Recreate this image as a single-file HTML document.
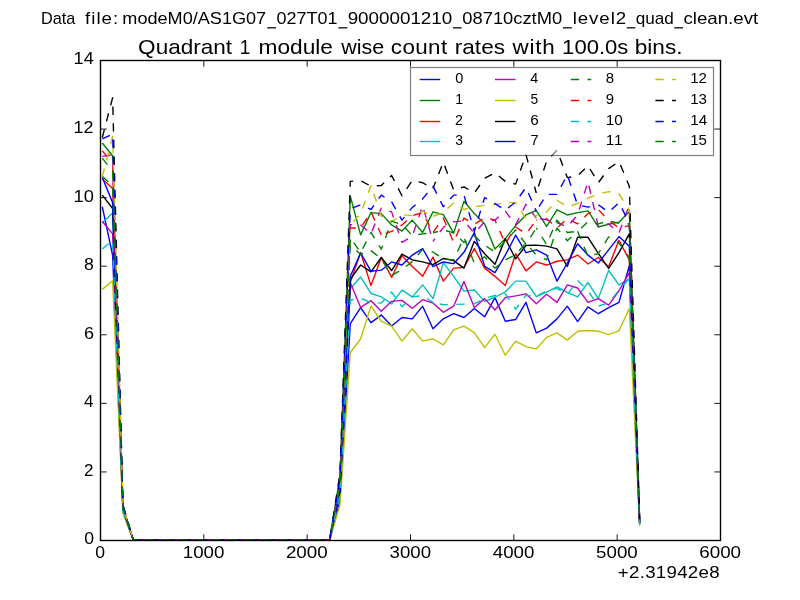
<!DOCTYPE html>
<html><head><meta charset="utf-8"><title>plot</title>
<style>
html,body{margin:0;padding:0;background:#fff;}
body{width:800px;height:600px;overflow:hidden;}
svg{display:block;}
text{font-family:"Liberation Sans",sans-serif;fill:#000;}
</style></head><body>
<svg width="800" height="600" viewBox="0 0 800 600">
<rect width="800" height="600" fill="#fff"/>

<defs><filter id="gs" x="0" y="0" width="100%" height="100%" filterUnits="userSpaceOnUse" color-interpolation-filters="sRGB"><feColorMatrix type="saturate" values="0"/></filter><clipPath id="c"><rect x="100.5" y="60.5" width="620" height="480"/></clipPath></defs>
<g clip-path="url(#c)" fill="none" stroke-width="1.39" stroke-linejoin="round" stroke-linecap="butt">
<path d="M102.30,206.74 L112.63,255.43 L122.97,512.13 L133.30,540.00 L143.63,540.00 L153.97,540.00 L164.30,540.00 L174.63,540.00 L184.97,540.00 L195.30,540.00 L205.63,540.00 L215.97,540.00 L226.30,540.00 L236.63,540.00 L246.97,540.00 L257.30,540.00 L267.63,540.00 L277.97,540.00 L288.30,540.00 L298.63,540.00 L308.97,540.00 L319.30,540.00 L329.63,540.00 L339.97,499.98 L350.30,323.66 L360.63,307.54 L370.97,322.63 L381.30,315.09 L391.63,326.06 L401.97,317.49 L412.30,318.86 L422.63,306.17 L432.97,328.80 L443.30,318.86 L453.63,313.71 L463.97,317.49 L474.30,308.57 L484.63,316.80 L494.97,297.60 L505.30,321.26 L515.63,319.54 L525.97,302.40 L536.30,332.91 L546.63,328.11 L556.97,318.86 L567.30,306.17 L577.63,321.60 L587.97,306.86 L598.30,313.71 L608.63,307.54 L618.96,302.40 L629.30,265.71 L639.63,523.54" stroke="#0000ff"/>
<path d="M102.30,142.97 L112.63,156.00 L122.97,506.98 L133.30,540.00 L143.63,540.00 L153.97,540.00 L164.30,540.00 L174.63,540.00 L184.97,540.00 L195.30,540.00 L205.63,540.00 L215.97,540.00 L226.30,540.00 L236.63,540.00 L246.97,540.00 L257.30,540.00 L267.63,540.00 L277.97,540.00 L288.30,540.00 L298.63,540.00 L308.97,540.00 L319.30,540.00 L329.63,540.00 L339.97,476.38 L350.30,196.11 L360.63,234.86 L370.97,212.57 L381.30,213.60 L391.63,224.91 L401.97,231.09 L412.30,220.11 L422.63,232.46 L432.97,211.89 L443.30,214.63 L453.63,233.14 L463.97,201.26 L474.30,213.60 L484.63,223.89 L494.97,248.91 L505.30,238.63 L515.63,225.60 L525.97,214.97 L536.30,210.51 L546.63,226.29 L556.97,209.83 L567.30,214.97 L577.63,212.57 L587.97,210.86 L598.30,226.97 L608.63,224.23 L618.96,222.17 L629.30,211.54 L639.63,520.29" stroke="#008000"/>
<path d="M102.30,178.97 L112.63,188.57 L122.97,509.45 L133.30,540.00 L143.63,540.00 L153.97,540.00 L164.30,540.00 L174.63,540.00 L184.97,540.00 L195.30,540.00 L205.63,540.00 L215.97,540.00 L226.30,540.00 L236.63,540.00 L246.97,540.00 L257.30,540.00 L267.63,540.00 L277.97,540.00 L288.30,540.00 L298.63,540.00 L308.97,540.00 L319.30,540.00 L329.63,540.00 L339.97,492.37 L350.30,282.51 L360.63,252.34 L370.97,285.60 L381.30,257.49 L391.63,277.37 L401.97,255.77 L412.30,266.40 L422.63,276.34 L432.97,257.14 L443.30,281.14 L453.63,268.11 L463.97,267.43 L474.30,248.57 L484.63,268.11 L494.97,276.34 L505.30,285.60 L515.63,253.71 L525.97,270.86 L536.30,261.94 L546.63,265.03 L556.97,261.26 L567.30,259.89 L577.63,255.09 L587.97,264.00 L598.30,257.49 L608.63,266.74 L618.96,240.34 L629.30,259.89 L639.63,523.19" stroke="#ff0000"/>
<path d="M102.30,222.86 L112.63,212.91 L122.97,510.75 L133.30,540.00 L143.63,540.00 L153.97,540.00 L164.30,540.00 L174.63,540.00 L184.97,540.00 L195.30,540.00 L205.63,540.00 L215.97,540.00 L226.30,540.00 L236.63,540.00 L246.97,540.00 L257.30,540.00 L267.63,540.00 L277.97,540.00 L288.30,540.00 L298.63,540.00 L308.97,540.00 L319.30,540.00 L329.63,540.00 L339.97,493.51 L350.30,288.69 L360.63,277.03 L370.97,293.49 L381.30,296.91 L391.63,303.77 L401.97,290.06 L412.30,296.91 L422.63,284.91 L432.97,298.63 L443.30,262.63 L453.63,276.34 L463.97,291.09 L474.30,290.06 L484.63,301.37 L494.97,297.26 L505.30,291.77 L515.63,281.14 L525.97,281.14 L536.30,296.57 L546.63,292.11 L556.97,286.97 L567.30,292.46 L577.63,296.91 L587.97,282.51 L598.30,298.63 L608.63,270.51 L618.96,284.91 L629.30,278.74 L639.63,524.32" stroke="#00bfbf"/>
<path d="M102.30,221.49 L112.63,233.83 L122.97,511.29 L133.30,540.00 L143.63,540.00 L153.97,540.00 L164.30,540.00 L174.63,540.00 L184.97,540.00 L195.30,540.00 L205.63,540.00 L215.97,540.00 L226.30,540.00 L236.63,540.00 L246.97,540.00 L257.30,540.00 L267.63,540.00 L277.97,540.00 L288.30,540.00 L298.63,540.00 L308.97,540.00 L319.30,540.00 L329.63,540.00 L339.97,492.37 L350.30,282.51 L360.63,307.54 L370.97,300.69 L381.30,311.31 L391.63,301.37 L401.97,300.34 L412.30,308.23 L422.63,299.66 L432.97,303.09 L443.30,312.34 L453.63,306.17 L463.97,281.49 L474.30,307.54 L484.63,298.63 L494.97,309.94 L505.30,297.60 L515.63,295.89 L525.97,293.83 L536.30,303.77 L546.63,294.17 L556.97,302.40 L567.30,284.91 L577.63,288.00 L587.97,302.40 L598.30,298.63 L608.63,305.14 L618.96,290.74 L629.30,272.57 L639.63,523.95" stroke="#bf00bf"/>
<path d="M102.30,289.37 L112.63,280.80 L122.97,513.29 L133.30,540.00 L143.63,540.00 L153.97,540.00 L164.30,540.00 L174.63,540.00 L184.97,540.00 L195.30,540.00 L205.63,540.00 L215.97,540.00 L226.30,540.00 L236.63,540.00 L246.97,540.00 L257.30,540.00 L267.63,540.00 L277.97,540.00 L288.30,540.00 L298.63,540.00 L308.97,540.00 L319.30,540.00 L329.63,540.00 L339.97,505.30 L350.30,352.46 L360.63,338.74 L370.97,306.17 L381.30,321.26 L391.63,326.06 L401.97,341.14 L412.30,328.80 L422.63,341.14 L432.97,338.74 L443.30,344.91 L453.63,329.83 L463.97,326.06 L474.30,332.57 L484.63,347.66 L494.97,334.29 L505.30,355.20 L515.63,341.14 L525.97,346.63 L536.30,349.03 L546.63,337.37 L556.97,332.91 L567.30,340.11 L577.63,331.20 L587.97,330.51 L598.30,331.20 L608.63,334.63 L618.96,330.86 L629.30,308.57 L639.63,526.11" stroke="#bfbf00"/>
<path d="M102.30,195.09 L112.63,208.46 L122.97,508.94 L133.30,540.00 L143.63,540.00 L153.97,540.00 L164.30,540.00 L174.63,540.00 L184.97,540.00 L195.30,540.00 L205.63,540.00 L215.97,540.00 L226.30,540.00 L236.63,540.00 L246.97,540.00 L257.30,540.00 L267.63,540.00 L277.97,540.00 L288.30,540.00 L298.63,540.00 L308.97,540.00 L319.30,540.00 L329.63,540.00 L339.97,491.79 L350.30,279.43 L360.63,265.03 L370.97,271.89 L381.30,257.49 L391.63,270.51 L401.97,254.06 L412.30,259.89 L422.63,261.94 L432.97,264.69 L443.30,258.51 L453.63,260.57 L463.97,268.11 L474.30,241.37 L484.63,253.71 L494.97,264.34 L505.30,238.63 L515.63,258.86 L525.97,245.49 L536.30,245.14 L546.63,246.17 L556.97,248.91 L567.30,266.40 L577.63,237.26 L587.97,237.26 L598.30,253.37 L608.63,268.46 L618.96,252.69 L629.30,233.83 L639.63,521.63" stroke="#000000"/>
<path d="M102.30,177.60 L112.63,202.63 L122.97,509.02 L133.30,540.00 L143.63,540.00 L153.97,540.00 L164.30,540.00 L174.63,540.00 L184.97,540.00 L195.30,540.00 L205.63,540.00 L215.97,540.00 L226.30,540.00 L236.63,540.00 L246.97,540.00 L257.30,540.00 L267.63,540.00 L277.97,540.00 L288.30,540.00 L298.63,540.00 L308.97,540.00 L319.30,540.00 L329.63,540.00 L339.97,491.22 L350.30,276.34 L360.63,253.03 L370.97,271.20 L381.30,270.17 L391.63,261.94 L401.97,265.03 L412.30,255.09 L422.63,248.57 L432.97,266.74 L443.30,261.94 L453.63,263.66 L463.97,252.34 L474.30,232.46 L484.63,266.40 L494.97,272.57 L505.30,255.09 L515.63,235.20 L525.97,252.69 L536.30,249.94 L546.63,255.09 L556.97,281.14 L567.30,262.97 L577.63,243.77 L587.97,255.09 L598.30,262.97 L608.63,249.94 L618.96,236.57 L629.30,246.17 L639.63,522.37" stroke="#0000ff"/>
<path d="M102.30,176.23 L112.63,185.83 L122.97,508.78 L133.30,540.00" stroke="#008000" stroke-dasharray="8.333,8.333"/>
<path d="M133.30,540.00 L143.63,540.00 L153.97,540.00 L164.30,540.00 L174.63,540.00 L184.97,540.00 L195.30,540.00 L205.63,540.00 L215.97,540.00 L226.30,540.00 L236.63,540.00 L246.97,540.00 L257.30,540.00 L267.63,540.00 L277.97,540.00 L288.30,540.00 L298.63,540.00 L308.97,540.00 L319.30,540.00 L329.63,540.00" stroke="#008000" stroke-dasharray="8.333,8.333" stroke-dashoffset="4.33"/>
<path d="M329.63,540.00 L339.97,485.45 L350.30,245.14 L360.63,254.40 L370.97,250.63 L381.30,258.86 L391.63,275.66 L401.97,269.49 L412.30,261.60 L422.63,249.26 L432.97,252.00" stroke="#008000" stroke-dasharray="8.333,8.333" stroke-dashoffset="12.42"/>
<path d="M432.97,252.00 L443.30,258.86 L453.63,259.89 L463.97,237.60 L474.30,262.97 L484.63,256.80 L494.97,268.11 L505.30,259.89 L515.63,254.74 L525.97,243.09 L536.30,255.09" stroke="#008000" stroke-dasharray="8.333,8.333" stroke-dashoffset="1.23"/>
<path d="M536.30,255.09 L546.63,259.89 L556.97,228.00 L567.30,240.69 L577.63,231.43 L587.97,256.11 L598.30,253.71 L608.63,236.91 L618.96,243.09 L629.30,257.49 L639.63,523.05" stroke="#008000" stroke-dasharray="8.333,8.333" stroke-dashoffset="8.33"/>
<path d="M102.30,150.86 L112.63,162.86 L122.97,507.19 L133.30,540.00" stroke="#ff0000" stroke-dasharray="8.333,8.333"/>
<path d="M133.30,540.00 L143.63,540.00 L153.97,540.00 L164.30,540.00 L174.63,540.00 L184.97,540.00 L195.30,540.00 L205.63,540.00 L215.97,540.00 L226.30,540.00 L236.63,540.00 L246.97,540.00 L257.30,540.00 L267.63,540.00 L277.97,540.00 L288.30,540.00 L298.63,540.00 L308.97,540.00 L319.30,540.00 L329.63,540.00" stroke="#ff0000" stroke-dasharray="8.333,8.333" stroke-dashoffset="4.93"/>
<path d="M329.63,540.00 L339.97,482.28 L350.30,228.00 L360.63,228.00 L370.97,211.89 L381.30,234.86" stroke="#ff0000" stroke-dasharray="8.333,8.333" stroke-dashoffset="6.38"/>
<path d="M381.30,234.86 L391.63,231.43 L401.97,224.91 L412.30,215.66 L422.63,212.57 L432.97,232.46" stroke="#ff0000" stroke-dasharray="8.333,8.333" stroke-dashoffset="12.00"/>
<path d="M432.97,232.46 L443.30,218.06 L453.63,242.40 L463.97,218.06 L474.30,224.23 L484.63,217.71 L494.97,220.11 L505.30,243.77 L515.63,226.97 L525.97,233.83 L536.30,220.11" stroke="#ff0000" stroke-dasharray="8.333,8.333" stroke-dashoffset="16.14"/>
<path d="M536.30,220.11 L546.63,218.74 L556.97,228.00 L567.30,218.74 L577.63,223.89 L587.97,213.60 L598.30,209.49 L608.63,220.46 L618.96,228.00 L629.30,225.60 L639.63,521.14" stroke="#ff0000" stroke-dasharray="8.333,8.333" stroke-dashoffset="7.39"/>
<path d="M102.30,248.91 L112.63,240.34 L122.97,511.23 L133.30,540.00" stroke="#00bfbf" stroke-dasharray="8.333,8.333"/>
<path d="M133.30,540.00 L143.63,540.00 L153.97,540.00 L164.30,540.00 L174.63,540.00 L184.97,540.00 L195.30,540.00 L205.63,540.00 L215.97,540.00 L226.30,540.00 L236.63,540.00 L246.97,540.00 L257.30,540.00 L267.63,540.00 L277.97,540.00 L288.30,540.00 L298.63,540.00 L308.97,540.00 L319.30,540.00 L329.63,540.00" stroke="#00bfbf" stroke-dasharray="8.333,8.333" stroke-dashoffset="1.33"/>
<path d="M329.63,540.00 L339.97,495.60 L350.30,300.00 L360.63,298.29 L370.97,302.40 L381.30,303.09 L391.63,292.11 L401.97,306.86 L412.30,296.91 L422.63,295.54 L432.97,302.40" stroke="#00bfbf" stroke-dasharray="8.333,8.333" stroke-dashoffset="13.45"/>
<path d="M432.97,302.40 L443.30,304.80 L453.63,304.46 L463.97,304.11 L474.30,303.77 L484.63,298.29 L494.97,295.54 L505.30,293.83 L515.63,309.26 L525.97,295.20 L536.30,296.23" stroke="#00bfbf" stroke-dasharray="8.333,8.333" stroke-dashoffset="9.78"/>
<path d="M536.30,296.23 L546.63,291.09 L556.97,288.34 L567.30,294.51 L577.63,280.46 L587.97,290.74 L598.30,306.17 L608.63,302.74 L618.96,290.06 L629.30,278.74 L639.63,524.32" stroke="#00bfbf" stroke-dasharray="8.333,8.333" stroke-dashoffset="14.89"/>
<path d="M102.30,156.34 L112.63,154.97 L122.97,507.02 L133.30,540.00" stroke="#bf00bf" stroke-dasharray="8.333,8.333"/>
<path d="M133.30,540.00 L143.63,540.00 L153.97,540.00 L164.30,540.00 L174.63,540.00 L184.97,540.00 L195.30,540.00 L205.63,540.00 L215.97,540.00 L226.30,540.00 L236.63,540.00 L246.97,540.00 L257.30,540.00 L267.63,540.00 L277.97,540.00 L288.30,540.00 L298.63,540.00 L308.97,540.00 L319.30,540.00 L329.63,540.00" stroke="#bf00bf" stroke-dasharray="8.333,8.333" stroke-dashoffset="13.30"/>
<path d="M329.63,540.00 L339.97,481.65 L350.30,224.57 L360.63,224.91 L370.97,233.83 L381.30,208.11 L391.63,211.89 L401.97,242.40 L412.30,236.23 L422.63,205.71 L432.97,241.37" stroke="#bf00bf" stroke-dasharray="8.333,8.333" stroke-dashoffset="6.56"/>
<path d="M432.97,241.37 L443.30,227.31 L453.63,221.83 L463.97,220.80 L474.30,233.14 L484.63,221.83 L494.97,220.11 L505.30,211.20 L515.63,224.91 L525.97,204.34 L536.30,218.06" stroke="#bf00bf" stroke-dasharray="8.333,8.333" stroke-dashoffset="5.05"/>
<path d="M536.30,218.06 L546.63,219.77 L556.97,222.51 L567.30,226.97 L577.63,214.97 L587.97,181.71 L598.30,226.29 L608.63,223.89 L618.96,233.14 L629.30,205.03 L639.63,519.90" stroke="#bf00bf" stroke-dasharray="8.333,8.333" stroke-dashoffset="12.76"/>
<path d="M102.30,176.57 L112.63,136.46 L122.97,506.29 L133.30,540.00" stroke="#bfbf00" stroke-dasharray="8.333,8.333"/>
<path d="M133.30,540.00 L143.63,540.00 L153.97,540.00 L164.30,540.00 L174.63,540.00 L184.97,540.00 L195.30,540.00 L205.63,540.00 L215.97,540.00 L226.30,540.00 L236.63,540.00 L246.97,540.00 L257.30,540.00 L267.63,540.00 L277.97,540.00 L288.30,540.00 L298.63,540.00 L308.97,540.00 L319.30,540.00 L329.63,540.00" stroke="#bfbf00" stroke-dasharray="8.333,8.333" stroke-dashoffset="2.33"/>
<path d="M329.63,540.00 L339.97,481.71 L350.30,224.91 L360.63,213.60 L370.97,185.49 L381.30,216.34 L391.63,221.83 L401.97,214.63 L412.30,215.66 L422.63,211.20 L432.97,216.34" stroke="#bfbf00" stroke-dasharray="8.333,8.333" stroke-dashoffset="13.03"/>
<path d="M432.97,216.34 L443.30,212.57 L453.63,202.63 L463.97,209.49 L474.30,206.74 L484.63,205.37 L494.97,204.69 L505.30,202.29 L515.63,202.63 L525.97,218.74 L536.30,215.66" stroke="#bfbf00" stroke-dasharray="8.333,8.333" stroke-dashoffset="16.33"/>
<path d="M536.30,215.66 L546.63,211.89 L556.97,200.23 L567.30,206.74 L577.63,203.66 L587.97,198.17 L598.30,194.06 L608.63,191.66 L618.96,193.71 L629.30,210.17 L639.63,520.21" stroke="#bfbf00" stroke-dasharray="8.333,8.333" stroke-dashoffset="6.76"/>
<path d="M102.30,137.49 L112.63,97.71 L122.97,504.66 L133.30,540.00" stroke="#000000" stroke-dasharray="8.333,8.333"/>
<path d="M133.30,540.00 L143.63,540.00 L153.97,540.00 L164.30,540.00 L174.63,540.00 L184.97,540.00 L195.30,540.00 L205.63,540.00 L215.97,540.00 L226.30,540.00 L236.63,540.00 L246.97,540.00 L257.30,540.00 L267.63,540.00 L277.97,540.00 L288.30,540.00 L298.63,540.00 L308.97,540.00 L319.30,540.00 L329.63,540.00" stroke="#000000" stroke-dasharray="8.333,8.333" stroke-dashoffset="0.73"/>
<path d="M329.63,540.00 L339.97,473.65 L350.30,181.37 L360.63,180.69 L370.97,186.17 L381.30,185.49 L391.63,175.54 L401.97,195.77 L412.30,180.34 L422.63,182.74 L432.97,188.57" stroke="#000000" stroke-dasharray="8.333,8.333" stroke-dashoffset="12.48"/>
<path d="M432.97,188.57 L443.30,162.17 L453.63,189.94 L463.97,186.86 L474.30,193.03 L484.63,178.29 L494.97,172.80 L505.30,181.37 L515.63,184.11 L525.97,154.63 L536.30,193.03" stroke="#000000" stroke-dasharray="8.333,8.333" stroke-dashoffset="1.05"/>
<path d="M536.30,193.03 L546.63,161.14 L556.97,150.17 L567.30,177.60 L577.63,175.89 L587.97,165.60 L598.30,182.74 L608.63,168.69 L618.96,161.49 L629.30,186.17 L639.63,518.77" stroke="#000000" stroke-dasharray="8.333,8.333" stroke-dashoffset="9.74"/>
<path d="M102.30,138.86 L112.63,134.06 L122.97,506.05 L133.30,540.00" stroke="#0000ff" stroke-dasharray="8.333,8.333"/>
<path d="M133.30,540.00 L143.63,540.00 L153.97,540.00 L164.30,540.00 L174.63,540.00 L184.97,540.00 L195.30,540.00 L205.63,540.00 L215.97,540.00 L226.30,540.00 L236.63,540.00 L246.97,540.00 L257.30,540.00 L267.63,540.00 L277.97,540.00 L288.30,540.00 L298.63,540.00 L308.97,540.00 L319.30,540.00 L329.63,540.00" stroke="#0000ff" stroke-dasharray="8.333,8.333" stroke-dashoffset="2.63"/>
<path d="M329.63,540.00 L339.97,478.73 L350.30,208.80 L360.63,204.69 L370.97,209.49 L381.30,195.09 L391.63,201.94 L401.97,220.11 L412.30,207.43 L422.63,198.86 L432.97,186.17" stroke="#0000ff" stroke-dasharray="8.333,8.333" stroke-dashoffset="15.25"/>
<path d="M432.97,186.17 L443.30,206.74 L453.63,195.09 L463.97,195.09 L474.30,231.43 L484.63,197.49 L494.97,203.66 L505.30,210.17 L515.63,201.94 L525.97,187.54 L536.30,211.20" stroke="#0000ff" stroke-dasharray="8.333,8.333" stroke-dashoffset="0.00"/>
<path d="M536.30,211.20 L546.63,194.40 L556.97,194.40 L567.30,174.86 L577.63,205.03 L587.97,207.09 L598.30,204.69 L608.63,212.23 L618.96,202.63 L629.30,222.86 L639.63,520.97" stroke="#0000ff" stroke-dasharray="8.333,8.333" stroke-dashoffset="11.41"/>
<path d="M102.30,158.06 L112.63,171.43 L122.97,507.73 L133.30,540.00" stroke="#008000" stroke-dasharray="8.333,8.333"/>
<path d="M133.30,540.00 L143.63,540.00 L153.97,540.00 L164.30,540.00 L174.63,540.00 L184.97,540.00 L195.30,540.00 L205.63,540.00 L215.97,540.00 L226.30,540.00 L236.63,540.00 L246.97,540.00 L257.30,540.00 L267.63,540.00 L277.97,540.00 L288.30,540.00 L298.63,540.00 L308.97,540.00 L319.30,540.00 L329.63,540.00" stroke="#008000" stroke-dasharray="8.333,8.333" stroke-dashoffset="4.13"/>
<path d="M329.63,540.00 L339.97,484.06 L350.30,237.60 L360.63,252.69 L370.97,232.46 L381.30,249.26 L391.63,221.14 L401.97,224.57 L412.30,235.54 L422.63,233.83 L432.97,232.80" stroke="#008000" stroke-dasharray="8.333,8.333" stroke-dashoffset="7.06"/>
<path d="M432.97,232.80 L443.30,230.06 L453.63,232.80 L463.97,242.40 L474.30,235.89 L484.63,245.14 L494.97,252.00 L505.30,241.37 L515.63,230.06 L525.97,244.46 L536.30,228.00" stroke="#008000" stroke-dasharray="8.333,8.333" stroke-dashoffset="3.12"/>
<path d="M536.30,228.00 L546.63,244.46 L556.97,220.11 L567.30,232.46 L577.63,231.43 L587.97,221.83 L598.30,223.89 L608.63,220.80 L618.96,223.20 L629.30,223.89 L639.63,521.03" stroke="#008000" stroke-dasharray="8.333,8.333" stroke-dashoffset="6.33"/>
</g>
<rect x="100.5" y="60.5" width="620" height="480" fill="none" stroke="#000" stroke-width="1.39"/>
<path d="M100.50,540.5v-6.2 M100.50,60.5v6.2 M203.83,540.5v-6.2 M203.83,60.5v6.2 M307.17,540.5v-6.2 M307.17,60.5v6.2 M410.50,540.5v-6.2 M410.50,60.5v6.2 M513.83,540.5v-6.2 M513.83,60.5v6.2 M617.17,540.5v-6.2 M617.17,60.5v6.2 M720.50,540.5v-6.2 M720.50,60.5v6.2 M100.5,540.50h6.2 M720.5,540.50h-6.2 M100.5,471.93h6.2 M720.5,471.93h-6.2 M100.5,403.36h6.2 M720.5,403.36h-6.2 M100.5,334.79h6.2 M720.5,334.79h-6.2 M100.5,266.21h6.2 M720.5,266.21h-6.2 M100.5,197.64h6.2 M720.5,197.64h-6.2 M100.5,129.07h6.2 M720.5,129.07h-6.2 M100.5,60.50h6.2 M720.5,60.50h-6.2" stroke="#000" stroke-width="0.9" fill="none"/>
<rect x="410.5" y="67.5" width="303" height="88" fill="#fff" fill-opacity="0.5" stroke="#000" stroke-opacity="0.5" stroke-width="1.2"/>
<path d="M419.70,79.50h20.5" stroke="#0000ff" stroke-width="1.39" fill="none"/>
<path d="M419.70,100.50h20.5" stroke="#008000" stroke-width="1.39" fill="none"/>
<path d="M419.70,121.50h20.5" stroke="#ff0000" stroke-width="1.39" fill="none"/>
<path d="M419.70,141.50h20.5" stroke="#00bfbf" stroke-width="1.39" fill="none"/>
<path d="M495.00,79.50h20.5" stroke="#bf00bf" stroke-width="1.39" fill="none"/>
<path d="M495.00,100.50h20.5" stroke="#bfbf00" stroke-width="1.39" fill="none"/>
<path d="M495.00,121.50h20.5" stroke="#000000" stroke-width="1.39" fill="none"/>
<path d="M495.00,141.50h20.5" stroke="#0000ff" stroke-width="1.39" fill="none"/>
<path d="M570.80,79.50h20.5" stroke="#008000" stroke-width="1.39" fill="none" stroke-dasharray="8.33,8.33"/>
<path d="M570.80,100.50h20.5" stroke="#ff0000" stroke-width="1.39" fill="none" stroke-dasharray="8.33,8.33"/>
<path d="M570.80,121.50h20.5" stroke="#00bfbf" stroke-width="1.39" fill="none" stroke-dasharray="8.33,8.33"/>
<path d="M570.80,141.50h20.5" stroke="#bf00bf" stroke-width="1.39" fill="none" stroke-dasharray="8.33,8.33"/>
<path d="M655.40,79.50h20.5" stroke="#bfbf00" stroke-width="1.39" fill="none" stroke-dasharray="8.33,8.33"/>
<path d="M655.40,100.50h20.5" stroke="#000000" stroke-width="1.39" fill="none" stroke-dasharray="8.33,8.33"/>
<path d="M655.40,121.50h20.5" stroke="#0000ff" stroke-width="1.39" fill="none" stroke-dasharray="8.33,8.33"/>
<path d="M655.40,141.50h20.5" stroke="#008000" stroke-width="1.39" fill="none" stroke-dasharray="8.33,8.33"/>
<g filter="url(#gs)"><text x="40.93" y="24.00" font-size="17.00" textLength="34.36" lengthAdjust="spacingAndGlyphs">Data</text>
<text transform="translate(84.97,24.00) scale(1.100,1)" font-size="17.00" letter-spacing="0.946">file:</text>
<text x="122.30" y="24.00" font-size="17.00" textLength="143.90" lengthAdjust="spacingAndGlyphs">modeM0/AS1G07</text>
<text x="276.59" y="24.00" font-size="17.00" textLength="60.88" lengthAdjust="spacingAndGlyphs">027T01</text>
<text x="347.67" y="24.00" font-size="17.00" textLength="104.57" lengthAdjust="spacingAndGlyphs">9000001210</text>
<text x="462.33" y="24.00" font-size="17.00" textLength="99.85" lengthAdjust="spacingAndGlyphs">08710cztM0</text>
<text transform="translate(572.76,24.00) scale(1.100,1)" font-size="17.00" letter-spacing="0.818">level2</text>
<text x="635.74" y="24.00" font-size="17.00" textLength="38.09" lengthAdjust="spacingAndGlyphs">quad</text>
<text x="683.43" y="24.00" font-size="17.00" textLength="74.76" lengthAdjust="spacingAndGlyphs">clean.evt</text>
<text x="138.14" y="54.00" font-size="20.40" textLength="94.03" lengthAdjust="spacingAndGlyphs">Quadrant</text>
<text x="239.86" y="54.00" font-size="20.40" textLength="10.54" lengthAdjust="spacingAndGlyphs">1</text>
<text x="258.47" y="54.00" font-size="20.40" textLength="74.52" lengthAdjust="spacingAndGlyphs">module</text>
<text x="341.25" y="54.00" font-size="20.40" textLength="42.97" lengthAdjust="spacingAndGlyphs">wise</text>
<text transform="translate(390.79,54.00) scale(1.100,1)" font-size="20.40" letter-spacing="0.338">count</text>
<text x="454.72" y="54.00" font-size="20.40" textLength="50.32" lengthAdjust="spacingAndGlyphs">rates</text>
<text transform="translate(512.50,54.00) scale(1.100,1)" font-size="20.40" letter-spacing="0.723">with</text>
<text x="562.13" y="54.00" font-size="20.40" textLength="66.16" lengthAdjust="spacingAndGlyphs">100.0s</text>
<text x="634.72" y="54.00" font-size="20.40" textLength="47.80" lengthAdjust="spacingAndGlyphs">bins.</text>
<rect x="267.25" y="27.2" width="8.75" height="1.25" fill="#000"/>
<rect x="338.50" y="27.2" width="8.75" height="1.25" fill="#000"/>
<rect x="453.00" y="27.2" width="8.50" height="1.25" fill="#000"/>
<rect x="563.00" y="27.2" width="8.75" height="1.25" fill="#000"/>
<rect x="626.75" y="27.2" width="8.50" height="1.25" fill="#000"/>
<rect x="674.25" y="27.2" width="8.75" height="1.25" fill="#000"/>
<text x="95.35" y="558.00" font-size="17.00" textLength="9.79" lengthAdjust="spacingAndGlyphs">0</text>
<text x="182.79" y="558.00" font-size="17.00" textLength="41.62" lengthAdjust="spacingAndGlyphs">1000</text>
<text x="285.91" y="558.00" font-size="17.00" textLength="41.84" lengthAdjust="spacingAndGlyphs">2000</text>
<text x="389.58" y="558.00" font-size="17.00" textLength="41.50" lengthAdjust="spacingAndGlyphs">3000</text>
<text x="492.73" y="558.00" font-size="17.00" textLength="41.68" lengthAdjust="spacingAndGlyphs">4000</text>
<text x="596.12" y="558.00" font-size="17.00" textLength="41.62" lengthAdjust="spacingAndGlyphs">5000</text>
<text x="699.19" y="558.00" font-size="17.00" textLength="41.89" lengthAdjust="spacingAndGlyphs">6000</text>
<text x="84.15" y="544.40" font-size="17.00" textLength="9.79" lengthAdjust="spacingAndGlyphs">0</text>
<text x="84.04" y="475.83" font-size="17.00" textLength="9.43" lengthAdjust="spacingAndGlyphs">2</text>
<text x="84.14" y="407.26" font-size="17.00" textLength="9.50" lengthAdjust="spacingAndGlyphs">4</text>
<text x="83.93" y="338.69" font-size="17.00" textLength="10.06" lengthAdjust="spacingAndGlyphs">6</text>
<text x="84.05" y="270.11" font-size="17.00" textLength="9.87" lengthAdjust="spacingAndGlyphs">8</text>
<text x="73.59" y="201.54" font-size="17.00" textLength="20.34" lengthAdjust="spacingAndGlyphs">10</text>
<text x="73.62" y="132.97" font-size="17.00" textLength="19.85" lengthAdjust="spacingAndGlyphs">12</text>
<text x="73.60" y="64.40" font-size="17.00" textLength="20.15" lengthAdjust="spacingAndGlyphs">14</text>
<text transform="translate(617.79,577.50) scale(1.100,1)" font-size="17.00" letter-spacing="0.254">+2.31942e8</text>
<text x="455.20" y="83.10" font-size="14.00" textLength="8.09" lengthAdjust="spacingAndGlyphs">0</text>
<text x="455.20" y="104.10" font-size="14.00" textLength="7.83" lengthAdjust="spacingAndGlyphs">1</text>
<text x="455.06" y="125.10" font-size="14.00" textLength="7.87" lengthAdjust="spacingAndGlyphs">2</text>
<text x="455.36" y="145.10" font-size="14.00" textLength="7.73" lengthAdjust="spacingAndGlyphs">3</text>
<text x="530.39" y="83.10" font-size="14.00" textLength="8.03" lengthAdjust="spacingAndGlyphs">4</text>
<text x="530.55" y="104.10" font-size="14.00" textLength="7.67" lengthAdjust="spacingAndGlyphs">5</text>
<text x="530.25" y="125.10" font-size="14.00" textLength="8.53" lengthAdjust="spacingAndGlyphs">6</text>
<text x="530.46" y="145.10" font-size="14.00" textLength="8.10" lengthAdjust="spacingAndGlyphs">7</text>
<text x="605.78" y="83.10" font-size="14.00" textLength="8.33" lengthAdjust="spacingAndGlyphs">8</text>
<text x="605.71" y="104.10" font-size="14.00" textLength="8.35" lengthAdjust="spacingAndGlyphs">9</text>
<text x="605.79" y="125.10" font-size="14.00" textLength="17.09" lengthAdjust="spacingAndGlyphs">10</text>
<text transform="translate(605.79,145.10) scale(1.100,1)" font-size="14.00" letter-spacing="0.761">11</text>
<text x="690.22" y="83.10" font-size="14.00" textLength="16.71" lengthAdjust="spacingAndGlyphs">12</text>
<text x="690.22" y="104.10" font-size="14.00" textLength="16.76" lengthAdjust="spacingAndGlyphs">13</text>
<text x="690.21" y="125.10" font-size="14.00" textLength="16.91" lengthAdjust="spacingAndGlyphs">14</text>
<text x="690.22" y="145.10" font-size="14.00" textLength="16.72" lengthAdjust="spacingAndGlyphs">15</text></g>
</svg></body></html>
